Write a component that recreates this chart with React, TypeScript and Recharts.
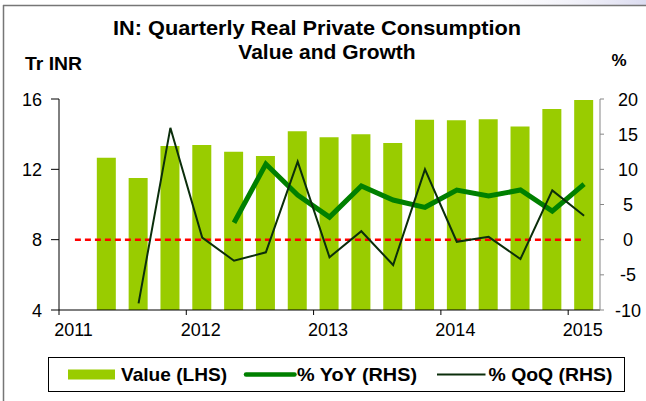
import React from "react";
import { ComposedChart, Bar, Line, XAxis, YAxis, ReferenceLine } from "recharts";

const quarters = [
  "2011Q1", "2011Q2", "2011Q3", "2011Q4",
  "2012Q1", "2012Q2", "2012Q3", "2012Q4",
  "2013Q1", "2013Q2", "2013Q3", "2013Q4",
  "2014Q1", "2014Q2", "2014Q3", "2014Q4",
  "2015Q1",
];
const valueTrINR = [null, 12.66, 11.51, 13.33, 13.38, 13.0, 12.76, 14.16, 13.82, 13.99, 13.5, 14.82, 14.79, 14.85, 14.43, 15.43, 15.94];
const yoyPct = [null, null, null, null, null, 2.4, 10.76, 6.35, 3.2, 7.63, 5.64, 4.6, 7.06, 6.2, 7.06, 4.07, 7.9];
const qoqPct = [null, null, -9.05, 15.9, 0.3, -3.0, -1.8, 11.1, -2.5, 1.2, -3.6, 10.0, -0.3, 0.4, -2.75, 7.0, 3.4];
const yearTicks = [2011, 2012, 2013, 2014, 2015];
const leftTicks = [4, 8, 12, 16];
const rightTicks = [-10, -5, 0, 5, 10, 15, 20];

const quarterMid = (q: string) => {
  const y = Number(q.slice(0, 4));
  const n = Number(q.slice(5));
  return y + (n - 1) * 0.25 + 0.125;
};

const data = quarters.map((q, i) => ({
  x: quarterMid(q),
  value: valueTrINR[i],
  yoy: yoyPct[i],
  qoq: qoqPct[i],
}));

const FONT = "'Liberation Sans', Arial, sans-serif";

const XTick = (props: any) => {
  const { x, y, payload } = props;
  return (
    <text x={x + 14.5} y={y} dy={19} textAnchor="middle" fontSize={18} fontFamily={FONT} fill="#000">
      {payload.value}
    </text>
  );
};
const LeftTick = (props: any) => {
  const { x, y, payload } = props;
  return (
    <text x={x} y={y} dy={6.5} textAnchor="end" fontSize={18} fontFamily={FONT} fill="#000">
      {payload.value}
    </text>
  );
};
const RightTick = (props: any) => {
  const { x, y, payload } = props;
  return (
    <text x={x + 22} y={y} dy={6.5} textAnchor="middle" fontSize={18} fontFamily={FONT} fill="#000">
      {payload.value}
    </text>
  );
};

export default function App() {
  const first = data[0].x;
  const last = data[data.length - 1].x;
  return (
    <div style={{ position: "absolute", left: 0, top: 0, width: 646, height: 401, background: "#fff", overflow: "hidden" }}>
      <ComposedChart width={646} height={401} data={data} margin={{ top: 99, right: 6, bottom: 61, left: 9 }}>
        <XAxis
          dataKey="x"
          type="number"
          domain={[2011, 2015.25]}
          ticks={yearTicks}
          allowDataOverflow
          tick={<XTick />}
          tickSize={5}
          tickMargin={2}
          stroke="#000"
          height={30}
        />
        <YAxis
          yAxisId="left"
          orientation="left"
          domain={[4, 16]}
          ticks={leftTicks}
          width={50}
          tickSize={8}
          tickMargin={9}
          stroke="#000"
          tick={<LeftTick />}
          allowDataOverflow
        />
        <YAxis
          yAxisId="right"
          orientation="right"
          domain={[-10, 20]}
          ticks={rightTicks}
          width={40}
          tickSize={4}
          tickMargin={2}
          stroke="#868686"
          tick={<RightTick />}
          allowDataOverflow
        />
        <Bar yAxisId="left" dataKey="value" fill="#99cc00" barSize={19} isAnimationActive={false} />
        <ReferenceLine
          yAxisId="right"
          segment={[{ x: first, y: 0 }, { x: last, y: 0 }]}
          stroke="#ff0000"
          strokeWidth={2.5}
          strokeDasharray="6 4"
        />
        <Line yAxisId="right" dataKey="yoy" stroke="#008000" strokeWidth={5} dot={false} activeDot={false} isAnimationActive={false} />
        <Line yAxisId="right" dataKey="qoq" stroke="#0b2e0b" strokeWidth={2} dot={false} activeDot={false} isAnimationActive={false} />
      </ComposedChart>
      <svg width={646} height={401} style={{ position: "absolute", left: 0, top: 0, pointerEvents: "none" }}>
        <defs>
          <linearGradient id="topglow" x1="0" x2="1" y1="0" y2="0">
            <stop offset="0.7" stopColor="#ffffff" stopOpacity={0} />
            <stop offset="1" stopColor="#dcdcf0" stopOpacity={1} />
          </linearGradient>
        </defs>
        <rect x={0} y={0} width={646} height={5} fill="url(#topglow)" />
        <line x1={3.5} y1={5} x2={3.5} y2={401} stroke="#767676" strokeWidth={1.5} />
        <line x1={3} y1={5.5} x2={646} y2={5.5} stroke="#767676" strokeWidth={1.5} />
        <text x={113} y={35} fontSize={21} fontWeight="bold" fontFamily={FONT} fill="#000" textLength={408} lengthAdjust="spacingAndGlyphs">
          IN: Quarterly Real Private Consumption
        </text>
        <text x={327} y={59} textAnchor="middle" fontSize={21} fontWeight="bold" fontFamily={FONT} fill="#000">
          Value and Growth
        </text>
        <text x={25} y={69.5} fontSize={18} fontWeight="bold" fontFamily={FONT} fill="#000" textLength={57} lengthAdjust="spacingAndGlyphs">
          Tr INR
        </text>
        <text x={611.5} y={66} fontSize={17} fontWeight="bold" fontFamily={FONT} fill="#000">
          %
        </text>
        <rect x={48.5} y={357.5} width={576} height={34} fill="#fff" stroke="#000" strokeWidth={1} />
        <rect x={68} y={369.5} width={47} height={10} fill="#99cc00" />
        <text x={121} y={381} fontSize={18.5} fontWeight="bold" fontFamily={FONT} fill="#000" textLength={106} lengthAdjust="spacingAndGlyphs">
          Value (LHS)
        </text>
        <line x1={246} y1={374.5} x2={294.5} y2={374.5} stroke="#008000" strokeWidth={4.5} strokeLinecap="round" />
        <text x={297} y={381} fontSize={18.5} fontWeight="bold" fontFamily={FONT} fill="#000" textLength={120} lengthAdjust="spacingAndGlyphs">
          % YoY (RHS)
        </text>
        <line x1={437} y1={374.5} x2={485.5} y2={374.5} stroke="#0b2e0b" strokeWidth={1.8} />
        <text x={488.5} y={381} fontSize={18.5} fontWeight="bold" fontFamily={FONT} fill="#000" textLength={124} lengthAdjust="spacingAndGlyphs">
          % QoQ (RHS)
        </text>
      </svg>
    </div>
  );
}
